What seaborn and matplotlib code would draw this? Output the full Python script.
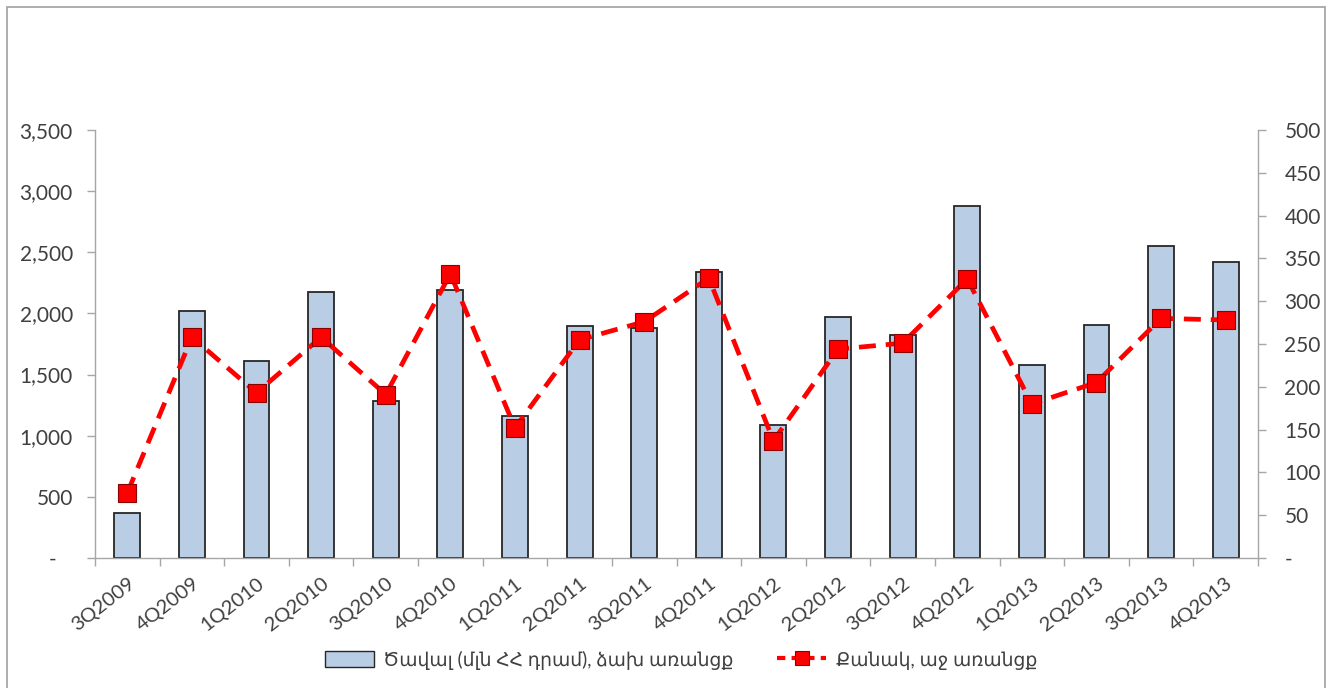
import matplotlib
matplotlib.use("Agg")
import matplotlib.pyplot as plt
import matplotlib.ticker as mticker
from matplotlib.patches import Rectangle
from matplotlib.lines import Line2D
import numpy as np
import pandas as pd
import seaborn as sns

quarters = ["3Q2009", "4Q2009", "1Q2010", "2Q2010", "3Q2010", "4Q2010",
            "1Q2011", "2Q2011", "3Q2011", "4Q2011", "1Q2012", "2Q2012",
            "3Q2012", "4Q2012", "1Q2013", "2Q2013", "3Q2013", "4Q2013"]
volume = [370, 2020, 1615, 2175, 1285, 2190, 1160, 1895, 1880, 2340,
          1087, 1970, 1823, 2878, 1578, 1905, 2550, 2420]
count = [76, 258, 193, 258, 191, 332, 152, 255, 276, 327,
         137, 244, 251, 326, 180, 205, 280, 278]

volume_label = "Ծավալ (մլն ՀՀ դրամ), ձախ առանցք"
count_label = "Քանակ, աջ առանցք"

sns.set_theme(style="white")
plt.rcParams["font.family"] = ["Lato", "DejaVu Sans"]

df = pd.DataFrame({"quarter": quarters, "volume": volume, "count": count})
df["pos"] = np.arange(len(df))

bar_color = "#B9CDE5"
line_color = "#FF0000"
axis_grey = "#A6A6A6"
text_grey = "#404040"

fig = plt.figure(figsize=(13.3, 6.88), dpi=100)
ax = fig.add_axes([95 / 1330, 1 - 558 / 688, (1258 - 95) / 1330, (558 - 130) / 688])

sns.barplot(data=df, x="pos", y="volume", ax=ax, color=bar_color,
            width=0.4, edgecolor="#262626", linewidth=1.3, saturation=1,
            native_scale=True)
ax.set_xlim(-0.5, len(quarters) - 0.5)
ax.set_ylim(0, 3500)
ax.set_xlabel("")
ax.set_ylabel("")

ax2 = ax.twinx()
sns.lineplot(data=df, x="pos", y="count", ax=ax2, color=line_color,
             linewidth=3.4, dashes=False, marker="s", markersize=12.5,
             markerfacecolor=line_color, markeredgecolor="#8B0000",
             markeredgewidth=0.8)
ax2.lines[0].set_linestyle((0, (3.6, 2.1)))
ax2.set_ylim(0, 500)
ax2.set_ylabel("")
ax2.set_xlabel("")

# value axes; zero is shown as a dash
left_fmt = mticker.FuncFormatter(lambda v, p: "-   " if v == 0 else f"{v:,.0f}")
right_fmt = mticker.FuncFormatter(lambda v, p: "-" if v == 0 else f"{v:.0f}")
ax.yaxis.set_major_locator(mticker.MultipleLocator(500))
ax.yaxis.set_major_formatter(left_fmt)
ax2.yaxis.set_major_locator(mticker.MultipleLocator(50))
ax2.yaxis.set_major_formatter(right_fmt)

# category axis: labels at centres, tick marks at boundaries
ax.set_xticks(df["pos"])
ax.set_xticklabels(quarters, rotation=38, ha="right", rotation_mode="anchor")
ax.set_xticks(np.arange(-0.5, len(quarters)), minor=True)
ax.tick_params(axis="x", which="major", length=0, pad=12, labelsize=14.5,
               labelcolor=text_grey)
ax.tick_params(axis="x", which="minor", length=6, width=1, color=axis_grey,
               direction="out", bottom=True)
ax.tick_params(axis="y", length=6, width=1, color=axis_grey, direction="out",
               left=True, labelsize=15, labelcolor=text_grey, pad=10)
ax2.tick_params(axis="y", length=6, width=1, color=axis_grey, direction="out",
                right=True, labelsize=15, labelcolor=text_grey, pad=13)

for a in (ax, ax2):
    for side, sp in a.spines.items():
        sp.set_color(axis_grey)
        sp.set_linewidth(1)
    a.spines["top"].set_visible(False)
ax.spines["right"].set_visible(False)
ax2.spines["left"].set_visible(False)
ax2.spines["bottom"].set_visible(False)
ax.set_zorder(0)
ax2.set_zorder(1)
ax2.patch.set_visible(False)

# legend below the plot
bar_handle = Rectangle((0, 0), 1, 1, facecolor=bar_color, edgecolor="#262626",
                       linewidth=1)
line_handle = Line2D([], [], color=line_color, linewidth=3,
                     linestyle=(0, (2, 1.5)), marker="s", markersize=10,
                     markerfacecolor=line_color, markeredgecolor="#8B0000",
                     markeredgewidth=0.8)
leg = fig.legend([bar_handle, line_handle], [volume_label, count_label],
                 loc="center", bbox_to_anchor=(0.512, 1 - 660 / 688), ncol=2,
                 frameon=False, fontsize=13.5, handlelength=2.6,
                 handleheight=0.9, columnspacing=2.35, handletextpad=0.5)
for t in leg.get_texts():
    t.set_color(text_grey)

# outer frame
fig.add_artist(Rectangle((7 / 1330, -0.01), (1325 - 7) / 1330, 1 - 7 / 688 + 0.01,
                         transform=fig.transFigure, fill=False,
                         edgecolor="#A0A0A0", linewidth=1.2))

fig.savefig("out.png", dpi=100, facecolor="white")
